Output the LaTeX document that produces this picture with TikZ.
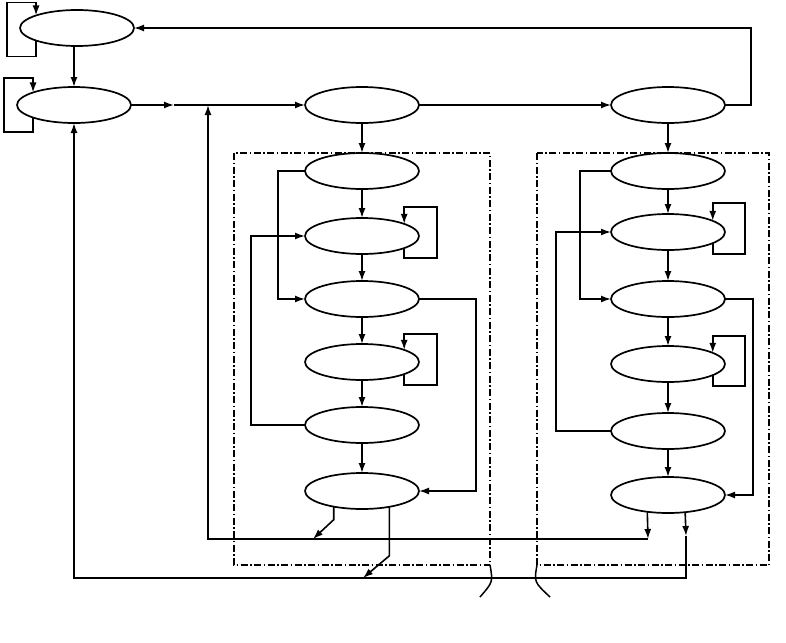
\documentclass[tikz,border=0pt]{standalone}
\usetikzlibrary{shapes.geometric,arrows.meta}
\begin{document}
\begin{tikzpicture}[x=1pt,y=-1pt,line width=1.6pt,
  st/.style={draw,ellipse,minimum width=114pt,minimum height=36pt,inner sep=0pt,outer sep=0pt,line width=1.7pt},
  arr/.style={-{Latex[length=10pt,width=7pt]}},
  box/.style={line width=1.5pt,dash pattern=on 7pt off 2.5pt on 1.5pt off 2.5pt}]
\useasboundingbox (0,0) rectangle (786,642);
% boxes
\draw[box] (234,153) rectangle (490,565);
\draw[box] (537,153) rectangle (769,565);
% nodes
\node[st] (A) at (77,28) {};
\node[st] (B) at (74,105) {};
\node[st] (C) at (362,105) {};
\node[st] (D) at (668,105) {};
\node[st] (L1) at (362,171) {};
\node[st] (L2) at (362,236) {};
\node[st] (L3) at (362,299) {};
\node[st] (L4) at (362,362) {};
\node[st] (L5) at (362,425) {};
\node[st] (L6) at (362,491) {};
\node[st] (R1) at (668,171) {};
\node[st] (R2) at (668,232) {};
\node[st] (R3) at (668,299) {};
\node[st] (R4) at (668,364) {};
\node[st] (R5) at (668,431) {};
\node[st] (R6) at (668,495) {};
% junction coordinates
\coordinate (m1) at (174,105);
\coordinate (j1) at (208,105);
\coordinate (j2) at (208,539);
\coordinate (j3) at (648,539);
\coordinate (j4) at (686,536);
\coordinate (j5) at (686,578);
\coordinate (j6) at (74,578);
\coordinate (d1) at (313,539);
\coordinate (d2) at (363,578);
% self loops
\draw[arr] (A.197) -- ++(0,16) -| ++(-29,-54) -| (A.163);
\draw[arr] (B.197) -- ++(0,14.5) -| ++(-29,-54) -| (B.163);
\draw[arr] (L2.-16) -- ++(0,10) -| ++(33,-51) -| (L2.16);
\draw[arr] (L4.-16) -- ++(0,11) -| ++(33,-51) -| (L4.16);
\draw[arr] (R2.-14) -- ++(0,11) -| ++(32,-51) -| (R2.14);
\draw[arr] (R4.-14.5) -- ++(0,10.6) -| ++(32,-50) -| (R4.14.5);
% top level
\draw[arr] (A.south -| B.north) -- (B.north);
\draw[arr] (B.east) -- (m1);
\draw[arr] (m1) -- (C.west);
\draw[arr] (C.east) -- (D.west);
\draw[arr] (D.east) -- ++(26,0) |- (A.east);
\draw[arr] (C) -- (L1);
\draw[arr] (D) -- (R1);
% left column
\draw[arr] (L1) -- (L2);
\draw[arr] (L2) -- (L3);
\draw[arr] (L3) -- (L4);
\draw[arr] (L4) -- (L5);
\draw[arr] (L5) -- (L6);
\draw[arr] (L1.west) -- ++(-27,0) |- (L3.west);
\draw[arr] (L5.west) -- ++(-54,0) |- (L2.west);
\draw[arr] (L3.east) -- ++(57,0) |- (L6.east);
% right column
\draw[arr] (R1) -- (R2);
\draw[arr] (R2) -- (R3);
\draw[arr] (R3) -- (R4);
\draw[arr] (R4) -- (R5);
\draw[arr] (R5) -- (R6);
\draw[arr] (R1.west) -- ++(-31,0) |- (R3.west);
\draw[arr] (R5.west) -- ++(-55,0) |- (R2.west);
\draw[arr] (R3.east) -- ++(28,0) |- (R6.east);
% return lines
\draw[arr] (R6.-141.5) -- (j3);
\draw[arr] (j3) -- (j2) -- (j1);
\draw[arr] (R6.-45.3) -- (j4);
\draw[arr] (j4) -- (j5) -- (j6) -- (B.south);
\draw[arr] (L6.-151.9) -- ++(0,13) -- (d1);
\draw[arr] (L6.-30.5) -- ++(0,49) -- (d2);
% bracket leaders
\draw[line width=1.5pt] (490,565) .. controls (493,582) .. (480,597);
\draw[line width=1.5pt] (537,565) .. controls (534,582) .. (550,597);
\end{tikzpicture}
\end{document}
